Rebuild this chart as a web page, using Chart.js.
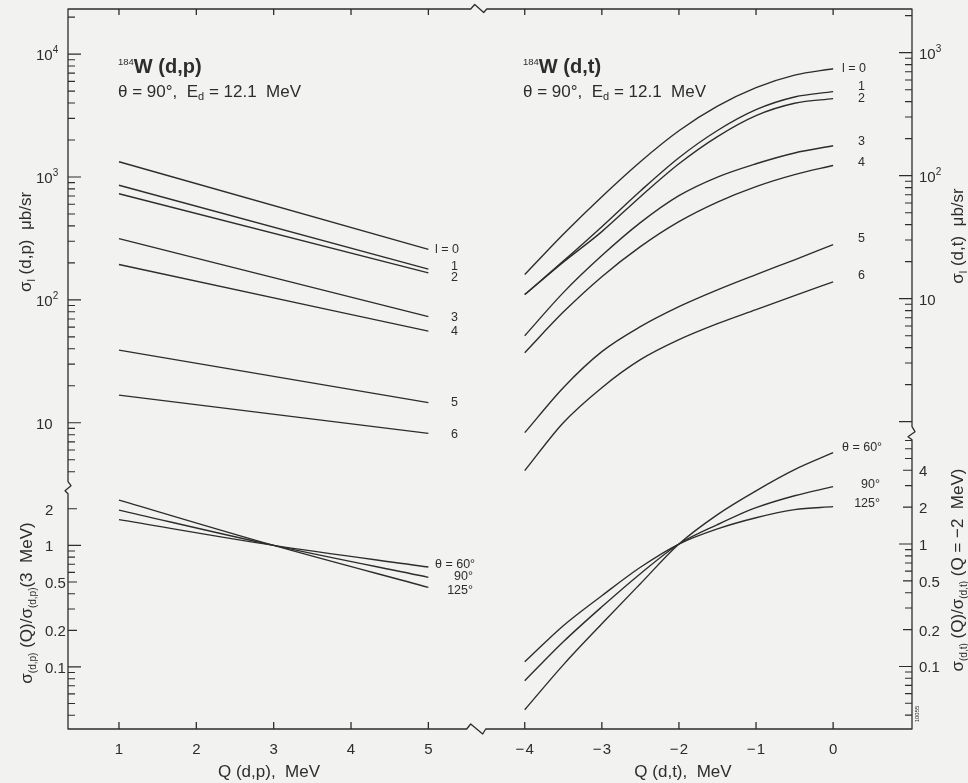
<!DOCTYPE html>
<html>
<head>
<meta charset="utf-8">
<script src="https://cdn.jsdelivr.net/npm/chart.js@4.4.0/dist/chart.umd.min.js"></script>
<style>
  html, body { margin: 0; padding: 0; background: #f2f2f1; }
  #contenedor { width: 968px; height: 783px; position: relative; }
</style>
</head>
<body>
<div id="contenedor"><canvas id="grafico" width="968" height="783"></canvas></div>
<script>
var FUENTE = "'Liberation Sans', Arial, sans-serif";
var COLOR = '#2d2d2d';

// 184W(d,p): sigma_l en ub/sr, Q = 1 y 5 MeV
var q_dp = [1, 5];
var dp_l0 = [1330, 258];
var dp_l1 = [857, 178];
var dp_l2 = [730, 166];
var dp_l3 = [315, 73];
var dp_l4 = [194, 55.7];
var dp_l5 = [39, 14.6];
var dp_l6 = [16.8, 8.2];

// (d,p) relativo a Q = 3 MeV
var q_dp_rel = [1, 3, 5];
var dp_th60 = [1.63, 1.0, 0.664];
var dp_th90 = [1.95, 1.0, 0.546];
var dp_th125 = [2.36, 1.0, 0.451];

// 184W(d,t)
var q_dt = [-4, -3.5, -3, -2.5, -2, -1.5, -1, -0.5, 0];
var dt_l0 = [15.7, 33.4, 67.5, 130, 232, 367, 519, 656, 741];
var dt_l1 = [10.8, 20.2, 38.5, 75.1, 140, 233, 344, 436, 482];
var dt_l2 = [10.8, 19.8, 35.1, 67.5, 125, 208, 308, 388, 423];
var dt_l3 = [5.0, 11.2, 22.4, 41.5, 68.8, 97.5, 125, 153, 175];
var dt_l4 = [3.64, 7.78, 15.1, 26.5, 42.3, 61.0, 81.5, 102, 121];
var dt_l5 = [0.814, 1.89, 3.71, 5.92, 8.61, 11.8, 15.7, 20.7, 27.5];
var dt_l6 = [0.40, 0.98, 1.89, 3.19, 4.64, 6.26, 8.15, 10.6, 13.7];

// (d,t) relativo a Q = -2 MeV
var dt_th60 = [0.0443, 0.103, 0.223, 0.474, 1.0, 1.74, 2.72, 4.05, 5.57];
var dt_th90 = [0.0764, 0.159, 0.307, 0.572, 1.0, 1.44, 1.98, 2.48, 2.94];
var dt_th125 = [0.109, 0.215, 0.378, 0.646, 1.0, 1.33, 1.64, 1.91, 2.02];

// marcas con etiqueta
var ticks_q_dp = [1, 2, 3, 4, 5];
var ticks_q_dt = [-4, -3, -2, -1, 0];
var ticks_dp_sec = [10, 100, 1000, 10000];
var ticks_dp_rel = [0.1, 0.2, 0.5, 1, 2];
var ticks_dt_sec = [10, 100, 1000];
var ticks_dt_rel = [0.1, 0.2, 0.5, 1, 2, 4];


function serie(xs, ys, ejeX, ejeY)
{
    return {
        data: xs.map(function (x, i) { return {x: x, y: ys[i]}; }),
        xAxisID: ejeX,
        yAxisID: ejeY,
        borderColor: COLOR,
        borderWidth: 1.4,
        pointRadius: 0,
        fill: false,
        cubicInterpolationMode: 'monotone',
        // las curvas (d,t) bajan por debajo del corte del eje derecho
        clip: ejeY === 'yRT' ? {left: 0, top: 0, right: 0, bottom: 80} : 0
    };
}

// escribe trozos de texto con distinto tamaño (sub/superindices)
function textoRuns(ctx, runs, x, y, alinear)
{
    var ancho = 0;
    runs.forEach(function (r) {
        ctx.font = (r[3] ? 'bold ' : '') + r[1] + 'px ' + FUENTE;
        ancho += ctx.measureText(r[0]).width;
    });
    var x0 = x;
    if (alinear === 'center') x0 = x - ancho / 2;
    else if (alinear === 'right') x0 = x - ancho;
    ctx.textAlign = 'left';
    ctx.textBaseline = 'alphabetic';
    runs.forEach(function (r) {
        ctx.font = (r[3] ? 'bold ' : '') + r[1] + 'px ' + FUENTE;
        ctx.fillText(r[0], x0, y + (r[2] || 0));
        x0 += ctx.measureText(r[0]).width;
    });
}

function textoVertical(ctx, runs, cx, cy)
{
    ctx.save();
    ctx.translate(cx, cy);
    ctx.rotate(-Math.PI / 2);
    textoRuns(ctx, runs, 0, 6, 'center');
    ctx.restore();
}

function marcasLog(ctx, esc, x0, hacia, etiquetas, xTexto, corteArriba, corteAbajo)
{
    var eMin = Math.floor(Math.log10(esc.min));
    var eMax = Math.ceil(Math.log10(esc.max));
    ctx.beginPath();
    for (var e = eMin; e <= eMax; e++) {
        for (var m = 1; m <= 9; m++) {
            var v = m * Math.pow(10, e);
            if (v < esc.min || v > esc.max) continue;
            var y = esc.getPixelForValue(v);
            if (corteArriba && y < esc.top + 7) continue;
            if (corteAbajo && y > esc.bottom - 4) continue;
            var conEtiqueta = etiquetas.some(function (t) { return Math.abs(t - v) < v * 1e-6; });
            var largo = m === 1 ? 13 : (conEtiqueta ? 9 : 7);
            ctx.moveTo(x0, y);
            ctx.lineTo(x0 + hacia * largo, y);
        }
    }
    ctx.stroke();
    etiquetas.forEach(function (v) {
        var y = esc.getPixelForValue(v);
        if (v >= 100) {
            textoRuns(ctx, [['10', 15], [String(Math.round(Math.log10(v))), 10, -7]], xTexto, y + 6, 'left');
        } else {
            textoRuns(ctx, [[String(v), 15]], xTexto, y + 6, 'left');
        }
    });
}

var marcoPlugin = {
    id: 'marco',
    afterDraw: function (chart)
    {
        var ctx = chart.ctx;
        var a = chart.chartArea;
        var s = chart.scales;
        var bx = s.xL.right;
        var byL = s.yLT.bottom;
        var byR = s.yRT.bottom;

        ctx.save();
        ctx.strokeStyle = COLOR;
        ctx.fillStyle = COLOR;
        ctx.lineWidth = 1.3;
        ctx.lineJoin = 'round';

        // marco con cortes
        ctx.beginPath();
        ctx.moveTo(a.left, a.top);
        ctx.lineTo(bx - 4, a.top);
        ctx.lineTo(bx, a.top - 4.5);
        ctx.lineTo(bx + 9, a.top + 3.5);
        ctx.lineTo(bx + 12, a.top);
        ctx.lineTo(a.right, a.top);
        ctx.lineTo(a.right, byR - 1);
        ctx.lineTo(a.right + 3, byR + 4);
        ctx.lineTo(a.right - 4, byR + 9);
        ctx.lineTo(a.right, byR + 12);
        ctx.lineTo(a.right, a.bottom);
        ctx.lineTo(bx + 11, a.bottom);
        ctx.lineTo(bx + 8, a.bottom + 5);
        ctx.lineTo(bx - 4, a.bottom - 5);
        ctx.lineTo(bx - 8, a.bottom);
        ctx.lineTo(a.left, a.bottom);
        ctx.lineTo(a.left, byL + 7);
        ctx.lineTo(a.left - 3, byL + 4);
        ctx.lineTo(a.left + 3, byL - 1);
        ctx.lineTo(a.left, byL - 5);
        ctx.closePath();
        ctx.stroke();

        // marcas del eje x arriba y abajo
        ctx.beginPath();
        [[s.xL, ticks_q_dp], [s.xR, ticks_q_dt]].forEach(function (par) {
            par[1].forEach(function (v) {
                var x = par[0].getPixelForValue(v);
                ctx.moveTo(x, a.top);
                ctx.lineTo(x, a.top + 6);
                ctx.moveTo(x, a.bottom);
                ctx.lineTo(x, a.bottom - 7);
            });
        });
        ctx.stroke();

        // marcas y etiquetas de los ejes y
        ctx.lineWidth = 1.1;
        marcasLog(ctx, s.yLT, a.left, 1, ticks_dp_sec, 36, false, true);
        marcasLog(ctx, s.yLB, a.left, 1, ticks_dp_rel, 45, true, false);
        marcasLog(ctx, s.yRT, a.right, -1, ticks_dt_sec, 919, false, true);
        marcasLog(ctx, s.yRB, a.right, -1, ticks_dt_rel, 919, true, false);

        // titulos de los ejes
        textoVertical(ctx, [['\u03c3', 17], ['l', 11, 4], [' (d,p)  \u03bcb/sr', 17]], 25, 242);
        textoVertical(ctx, [['\u03c3', 17], ['(d,p)', 10, 4], [' (Q)/', 17], ['\u03c3', 17], ['(d,p)', 10, 4], ['(3  MeV)', 17]], 26, 603);
        textoVertical(ctx, [['\u03c3', 17], ['l', 11, 4], [' (d,t)  \u03bcb/sr', 17]], 957, 236);
        textoVertical(ctx, [['\u03c3', 17], ['(d,t)', 10, 4], [' (Q)/', 17], ['\u03c3', 17], ['(d,t)', 10, 4], [' (Q = \u22122  MeV)', 17]], 957, 570);
        textoRuns(ctx, [['Q (d,p),  MeV', 17]], 269, 777, 'center');
        textoRuns(ctx, [['Q (d,t),  MeV', 17]], 683, 777, 'center');

        // titulos dentro del grafico
        textoRuns(ctx, [['184', 9.5, -8], ['W (d,p)', 20, 0, true]], 118, 73, 'left');
        textoRuns(ctx, [['\u03b8 = 90\u00b0,  E', 17], ['d', 11, 3], [' = 12.1  MeV', 17]], 118, 97, 'left');
        textoRuns(ctx, [['184', 9.5, -8], ['W (d,t)', 20, 0, true]], 523, 73, 'left');
        textoRuns(ctx, [['\u03b8 = 90\u00b0,  E', 17], ['d', 11, 3], [' = 12.1  MeV', 17]], 523, 97, 'left');

        // rotulos de las curvas
        var rotulos = [
            ['l = 0', 435, 250, 'left'], ['1', 458, 267, 'right'], ['2', 458, 278, 'right'],
            ['3', 458, 318, 'right'], ['4', 458, 332, 'right'], ['5', 458, 403, 'right'], ['6', 458, 435, 'right'],
            ['\u03b8 = 60\u00b0', 435, 565, 'left'], ['90\u00b0', 473, 577, 'right'], ['125\u00b0', 473, 591, 'right'],
            ['l = 0', 842, 69, 'left'], ['1', 865, 87, 'right'], ['2', 865, 99, 'right'],
            ['3', 865, 142, 'right'], ['4', 865, 163, 'right'], ['5', 865, 239, 'right'], ['6', 865, 276, 'right'],
            ['\u03b8 = 60\u00b0', 842, 448, 'left'], ['90\u00b0', 880, 485, 'right'], ['125\u00b0', 880, 504, 'right']
        ];
        ctx.font = '12.5px ' + FUENTE;
        ctx.textBaseline = 'middle';
        rotulos.forEach(function (r) {
            ctx.textAlign = r[3];
            ctx.fillText(r[0], r[1], r[2]);
        });

        // numero de figura
        ctx.save();
        ctx.translate(917, 714);
        ctx.rotate(-Math.PI / 2);
        ctx.font = '6px ' + FUENTE;
        ctx.textAlign = 'center';
        ctx.fillText('10055', 0, 0);
        ctx.restore();

        ctx.restore();
    }
};

function ejeX(peso, min, max, valores, etiqueta)
{
    return {
        type: 'linear', position: 'bottom', stack: 'abajo', stackWeight: peso,
        min: min, max: max,
        grid: {display: false, drawTicks: false},
        border: {display: false},
        afterBuildTicks: function (esc) { esc.ticks = valores.map(function (v) { return {value: v}; }); },
        afterFit: function (esc) { esc.height = 54; esc.paddingLeft = 0; esc.paddingRight = 0; },
        ticks: {
            padding: 12, maxRotation: 0, autoSkip: false, color: COLOR,
            font: {family: FUENTE, size: 15},
            callback: etiqueta
        }
    };
}

function ejeY(lado, pila, peso, min, max, ancho)
{
    return {
        type: 'logarithmic', position: lado, stack: pila, stackWeight: peso,
        min: min, max: max,
        grid: {display: false, drawTicks: false},
        border: {display: false},
        ticks: {display: false},
        afterFit: function (esc) { esc.width = ancho; esc.paddingTop = 0; esc.paddingBottom = 0; }
    };
}

var datos = {
    datasets: [
        serie(q_dp, dp_l0, 'xL', 'yLT'), serie(q_dp, dp_l1, 'xL', 'yLT'), serie(q_dp, dp_l2, 'xL', 'yLT'),
        serie(q_dp, dp_l3, 'xL', 'yLT'), serie(q_dp, dp_l4, 'xL', 'yLT'), serie(q_dp, dp_l5, 'xL', 'yLT'),
        serie(q_dp, dp_l6, 'xL', 'yLT'),
        serie(q_dp_rel, dp_th60, 'xL', 'yLB'), serie(q_dp_rel, dp_th90, 'xL', 'yLB'), serie(q_dp_rel, dp_th125, 'xL', 'yLB'),
        serie(q_dt, dt_l0, 'xR', 'yRT'), serie(q_dt, dt_l1, 'xR', 'yRT'), serie(q_dt, dt_l2, 'xR', 'yRT'),
        serie(q_dt, dt_l3, 'xR', 'yRT'), serie(q_dt, dt_l4, 'xR', 'yRT'), serie(q_dt, dt_l5, 'xR', 'yRT'),
        serie(q_dt, dt_l6, 'xR', 'yRT'),
        serie(q_dt, dt_th60, 'xR', 'yRB'), serie(q_dt, dt_th90, 'xR', 'yRB'), serie(q_dt, dt_th125, 'xR', 'yRB')
    ]
};

// nota: en el lado izquierdo chart.js apila en orden inverso, por eso yLB va antes que yLT
var grafico = new Chart(document.getElementById('grafico'), {
    type: 'line',
    data: datos,
    plugins: [marcoPlugin],
    options: {
        responsive: false,
        devicePixelRatio: 1,
        animation: false,
        events: [],
        layout: {padding: {top: 9, left: 0, right: 0, bottom: 0}},
        plugins: {legend: {display: false}, tooltip: {enabled: false}},
        scales: {
            xL: ejeX(406.7, 0.341, 5.599, ticks_q_dp, function (v) { return String(v); }),
            xR: ejeX(437.3, -4.649, 1.023, ticks_q_dt, function (v) { return v < 0 ? '\u2212\u200a' + Math.abs(v) : String(v); }),
            yLB: ejeY('left', 'izq', 242.3, 0.03083, 3.041, 68),
            yLT: ejeY('left', 'izq', 477.7, 3.02, 23280, 68),
            yRT: ejeY('right', 'der', 418.7, 0.8933, 2265, 56),
            yRB: ejeY('right', 'der', 301.3, 0.03083, 8.913, 56)
        }
    }
});
</script>
</body>
</html>
